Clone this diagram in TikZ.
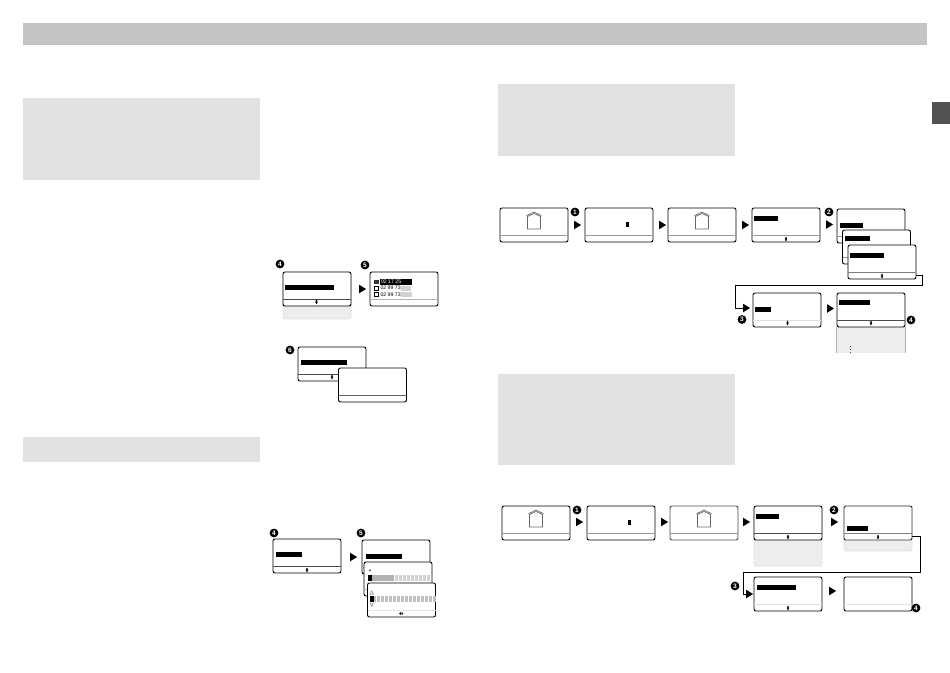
\documentclass[tikz,border=0pt]{standalone}
\usepackage{fontspec}
\setmainfont{Liberation Sans}
\usetikzlibrary{shapes.geometric,calc}
\definecolor{panel}{HTML}{E2E2E2}
\definecolor{extra}{HTML}{EDEDED}
\tikzset{
  screen/.style={draw=#1,fill=white,rounded corners=2pt,line width=0.9pt,inner sep=0pt,outer sep=0pt,minimum width=68pt,minimum height=34pt,anchor=north west},
  screen/.default=black,
  hidden/.style={draw=#1,fill=extra,rounded corners=2pt,line width=0.8pt,inner sep=0pt,outer sep=0pt,minimum width=68pt,anchor=north west},
  hidden/.default=panel,
  band/.style={fill=panel,draw=none,inner sep=0pt,outer sep=0pt,anchor=north west},
  flowtip/.style={isosceles triangle,isosceles triangle stretches,fill=black,draw=none,minimum height=7pt,minimum width=8.5pt,inner sep=0pt,outer sep=0pt},
  badge/.style={circle,fill=black,text=white,inner sep=0pt,outer sep=0pt,minimum size=8.8pt,font=\bfseries\fontsize{6.5}{6.5}\selectfont},
  bar/.style={fill=black,draw=none,inner sep=0pt,outer sep=0pt,minimum height=5pt,anchor=north west},
  link/.style={draw=black,line width=0.9pt},
  rowtext/.style={font=\fontsize{5.2}{5.2}\selectfont,inner sep=0pt,outer sep=0pt,anchor=west},
  box/.style={draw=black,line width=0.5pt,fill=white,minimum size=4pt,inner sep=0pt,outer sep=0pt},
}
% screen: name, x, y, border colour, divider colour
\newcommand{\scr}[5]{%
  \node[screen=#4] (#1) at (#2,#3) {};
  \draw[#5,line width=0.8pt] ([yshift=7pt]#1.south west) -- ([yshift=7pt]#1.south east);
}
\newcommand{\updown}[1]{%
  \fill[black] ($(#1)+(0,-2.4)$) -- ($(#1)+(1.2,-0.5)$) -- ($(#1)+(0.5,-0.3)$) -- ($(#1)+(0.5,0.3)$) -- ($(#1)+(1.2,0.5)$) -- ($(#1)+(0,2.4)$) -- ($(#1)+(-1.2,0.5)$) -- ($(#1)+(-0.5,0.3)$) -- ($(#1)+(-0.5,-0.3)$) -- ($(#1)+(-1.2,-0.5)$) -- cycle;
}
\newcommand{\house}[1]{%
  \draw[black!60,line width=0.7pt] ($(#1)+(-6.5,15.5)$) -- ($(#1)+(6.5,15.5)$) -- ($(#1)+(6.5,3)$) -- ($(#1)+(0,0)$) -- ($(#1)+(-6.5,3)$) -- cycle;
  \draw[black!60,line width=0.7pt] ($(#1)+(-7.5,2.2)$) -- ($(#1)+(0,-1.4)$) -- ($(#1)+(7.5,2.2)$);
}
\begin{document}
\begin{tikzpicture}[x=1pt,y=-1pt]
\useasboundingbox (0,0) rectangle (950,672);
\fill[white] (0,0) rectangle (950,672);
% header and shaded panels
\node[band,fill=black!23,minimum width=904pt,minimum height=22pt] (head) at (23,23) {};
\node[band,minimum width=237pt,minimum height=82pt] (p1) at (23,98) {};
\node[band,minimum width=237pt,minimum height=25pt] (p2) at (23,437) {};
\node[band,minimum width=237pt,minimum height=72pt] (p3) at (498,84) {};
\node[band,minimum width=237pt,minimum height=91pt] (p4) at (498,374) {};
\node[band,fill=black!68,minimum width=18pt,minimum height=22pt] (tab) at (932,102) {};

% --- left column, first group
\node[hidden,minimum height=47pt] (g1) at (283,272) {};
\scr{a4}{283}{272}{black}{black!70}
\node[bar,minimum width=49pt] (a4b) at (285,285) {};
\updown{316.5,301.8}
\node[badge] (ba4) at (280,264) {4};
\node[flowtip] (ta) at (361.5,289) {};
\scr{a5}{370}{272}{black}{black!30}
\node[badge] (ba5) at (365,265) {5};
\fill[black!80] (374,279.5) rectangle (378.5,284);
\fill[black] (380,279) rectangle (412,285);
\node[rowtext,text=white] (r1) at (381,282) {02 17 25};
\fill[black!18] (401,286) rectangle (411,291);
\fill[black!18] (401,292) rectangle (412,297);
\node[box] (c2) at (376.2,288) {};
\node[box] (c3) at (376.2,294.5) {};
\node[rowtext] (r2) at (380.5,288) {02 99 73};
\node[rowtext] (r3) at (380.5,294.5) {02 99 73};

\scr{a6}{298}{347}{black}{black!70}
\node[bar,minimum width=46pt] (a6b) at (301,360) {};
\updown{332,377}
\node[badge] (ba6) at (290,350) {6};
\scr{a7}{338.5}{368}{black}{black!60}

% --- left column, second group
\scr{b4}{273}{539}{black}{black!70}
\node[bar,minimum width=26pt] (b4b) at (276,552) {};
\updown{307,570}
\node[badge] (bb4) at (274,533) {4};
\node[flowtip] (tb) at (352.5,557) {};
\node[badge] (bb5) at (361,533) {5};
\scr{b5}{362}{540}{black}{black!30}
\node[bar,minimum width=36pt] (b5b) at (366,554) {};
\scr{b6}{364}{562}{black}{black!30}
\fill[black!30] (368,575) rectangle (394,581);
\foreach \i in {0,...,8} {\fill[black!18] (394.5+\i*4,575) rectangle (397.8+\i*4,581);}
\fill[black] (368,575) rectangle (371.5,581);
\fill[black!70] (368.8,571) -- (370,569) -- (371.2,571) -- cycle;
\scr{b7}{367.5}{583}{black}{panel}
\foreach \i in {0,...,15} {\fill[black!25] (373+\i*4,596) rectangle (376.3+\i*4,601.5);}
\fill[black] (370,596) rectangle (373.5,601.5);
\draw[black!60,line width=0.4pt,fill=white] (370.2,594.5) -- (371.8,591) -- (373.4,594.5) -- cycle;
\draw[black!60,line width=0.4pt,fill=white] (370.2,603) -- (371.8,606.5) -- (373.4,603) -- cycle;
\fill[black] (399,613.5) -- (401,612) -- (401,615) -- cycle;
\fill[black] (403.5,613.5) -- (401.5,612) -- (401.5,615) -- cycle;

% --- right column, first flow
\scr{c1}{500}{208}{black}{black!40}
\house{534,213.5}
\node[badge] (bc1) at (575,212) {1};
\node[flowtip] (tc1) at (576.5,225) {};
\scr{c2s}{585}{208}{black}{black!40}
\fill[black] (625.5,222) rectangle (628.5,227);
\node[flowtip] (tc2) at (661.5,225) {};
\scr{c3s}{668}{208}{black}{black!40}
\house{702,213.5}
\node[flowtip] (tc3) at (744.5,225) {};
\scr{c4}{752}{208}{black}{black!40}
\node[bar,minimum width=24pt] (c4b) at (754,216) {};
\updown{786,239}
\node[badge] (bc2) at (829,212) {2};
\node[flowtip] (tc4) at (828.5,224.5) {};
\scr{c5}{837}{209}{black}{black!40}
\node[bar,minimum width=23pt] (c5b) at (840,223) {};
\scr{c6}{842.5}{230}{black}{black!40}
\node[bar,minimum width=25pt] (c6b) at (845,235.5) {};
\scr{c7}{848}{245}{black}{black!50}
\node[bar,minimum width=34pt] (c7b) at (850,253) {};
\updown{882,276}
\node[flowtip] (tc5) at (745.5,308) {};
\coordinate (k1) at (922,275);
\coordinate (k2) at (922,285);
\coordinate (k3) at (735,285);
\coordinate (k4) at (735,308);
\draw[link] (c7.south east |- k1) -- (k1) -- (k2) -- (k3) -- (k4) -- (tc5.west);
\node[badge] (bc3) at (742,319.5) {3};
\scr{c8}{753}{293}{black}{panel}
\node[bar,minimum width=16pt] (c8b) at (755,307) {};
\updown{787.5,323}
\node[flowtip] (tc6) at (829.5,308.5) {};
\fill[extra] (836.5,320) rectangle (905.5,353);
\draw[black!30,line width=0.7pt] (836.5,327) -- (836.5,353) (905.5,327) -- (905.5,353);
\scr{c9}{837}{293}{black}{black!70}
\node[bar,minimum width=31pt] (c9b) at (839,300) {};
\updown{871,323}
\node[badge] (bc4) at (911,320) {4};
\foreach \yy in {345.5,348.5,351.5} {\fill[black!70] (849.5,\yy) rectangle (850.5,\yy+1);}

% --- right column, second flow
\scr{d1}{502}{506}{black}{black!40}
\house{536,511.5}
\node[badge] (bd1) at (577,510) {1};
\node[flowtip] (td1) at (578.5,522) {};
\scr{d2}{587}{506}{black}{black!40}
\fill[black] (627.5,520) rectangle (630.5,525);
\node[flowtip] (td2) at (663.5,522) {};
\scr{d3}{670}{506}{black!70}{black!40}
\house{704,511.5}
\node[flowtip] (td3) at (745.5,522) {};
\node[hidden,minimum height=60pt] (d4x) at (754,506) {};
\scr{d4}{754}{506}{black}{black!70}
\node[bar,minimum width=23pt] (d4b) at (756,514) {};
\updown{788,537}
\node[badge] (bd2) at (834,510) {2};
\node[flowtip] (td4) at (833.5,522) {};
\node[hidden,minimum height=45pt] (d5x) at (844,506) {};
\scr{d5}{844}{506}{black!80}{black!50}
\node[bar,minimum width=21pt] (d5b) at (847,526) {};
\updown{878,537}
\node[flowtip] (td5) at (748.5,594) {};
\coordinate (m1) at (920,536);
\coordinate (m2) at (920,572);
\coordinate (m3) at (743,572);
\coordinate (m4) at (743,594);
\draw[link] (d5.south east |- m1) -- (m1) -- (m2) -- (m3) -- (m4) -- (td5.west);
\node[badge] (bd3) at (735,586) {3};
\scr{d6}{754}{577}{black}{panel}
\node[bar,minimum width=39pt] (d6b) at (757,585) {};
\updown{788,608}
\node[flowtip] (td6) at (831.5,591) {};
\scr{d7}{844}{577}{black}{panel}
\node[badge] (bd4) at (916,608) {4};
\end{tikzpicture}
\end{document}
